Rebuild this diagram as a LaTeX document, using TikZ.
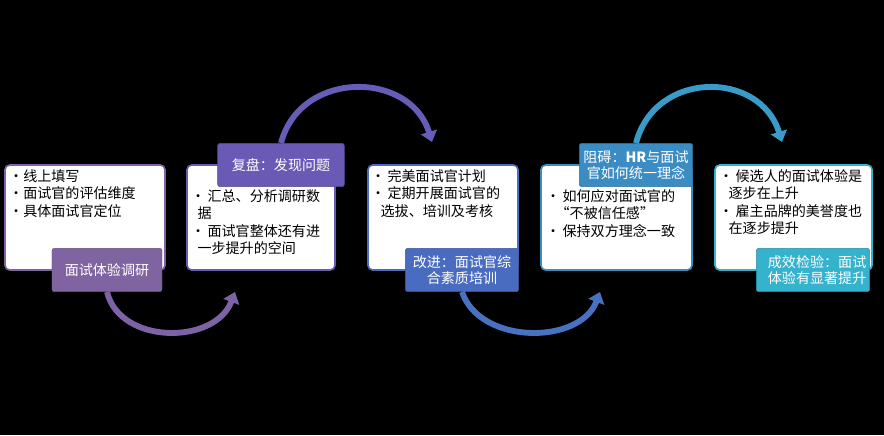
\documentclass[tikz,border=0pt]{standalone}
\usepackage{fontspec}
\setmainfont{Noto Sans CJK SC}
\usetikzlibrary{arrows.meta}
\definecolor{cA}{HTML}{8064A2}
\definecolor{cB}{HTML}{6A5AB5}
\definecolor{cC}{HTML}{4A6CC0}
\definecolor{cD}{HTML}{3C8CC4}
\definecolor{cE}{HTML}{35B2CC}
\tikzset{
  card/.style={draw=#1, line width=1.4pt, fill=white, rounded corners=4pt},
  tag/.style={fill=#1, draw=#1!80!black, text=white, rounded corners=2pt, align=center,
    minimum height=1.3cm, inner sep=2pt, font=\fontsize{12}{14}\selectfont},
  link/.style={draw=#1, line width=5pt, -{Triangle[length=9pt,width=14pt]}},
}
\begin{document}
\begin{tikzpicture}[x=0.03cm,y=-0.03cm]
  \fill[black] (0,0) rectangle (884,435);
  \useasboundingbox (0,0) rectangle (884,435);

  % cards
  \draw[card=cA] (5,165) rectangle (165,270);
  \draw[card=cB] (187,165) rectangle (335,270);
  \draw[card=cC] (368,165) rectangle (518,270);
  \draw[card=cD] (541,165) rectangle (692,270);
  \draw[card=cE] (715,165) rectangle (872,270);

  % card texts
  \begin{scope}[every node/.style={anchor=north west, align=left, inner sep=0pt,
      font=\fontsize{12}{15}\selectfont}]
    \node (tA) at (9,169) {•线上填写\\•面试官的评估维度\\•具体面试官定位};
    \node (tB) at (191,189) {•\,汇总、分析调研数\\\ \ 据\\•\,面试官整体还有进\\\ \ 一步提升的空间};
    \node (tC) at (371,169) {•\,完美面试官计划\\•\,定期开展面试官的\\\ \ \ 选拔、培训及考核};
    \node (tD) at (546,189) {•\,如何应对面试官的\\\ \ \ “不被信任感”\\•\,保持双方理念一致};
    \node (tE) at (719,169) {•\,候选人的面试体验是\\\ \ \ 逐步在上升\\•\,雇主品牌的美誉度也\\\ \ \ 在逐步提升};
  \end{scope}

  % tags
  \node[tag=cA, minimum width=3.3cm] (gA) at (107,270) {面试体验调研};
  \node[tag=cB, minimum width=3.8cm] (gB) at (281,165) {复盘：发现问题};
  \node[tag=cC, minimum width=3.4cm, text width=3.2cm] (gC) at (462,270) {改进：面试官综\\合素质培训};
  \node[tag=cD, minimum width=3.4cm, text width=3.2cm] (gD) at (636,165) {阻碍：\textbf{HR}与面试\\官如何统一理念};
  \node[tag=cE, minimum width=3.4cm, text width=3.2cm, align=right] (gE) at (813,270) {成效检验：面试\\体验有显著提升};

  % arcs
  \coordinate (eA) at (235,292);
  \coordinate (eB) at (432,142);
  \coordinate (eC) at (600,292);
  \coordinate (eD) at (782,142);
  \draw[link=cA!85!cB] (gA.south) .. controls (120,345) and (215,345) .. (eA);
  \draw[link=cB!85!cC] (gB.north) .. controls (300,70) and (410,70) .. (eB);
  \draw[link=cC!85!cD] (gC.south) .. controls (480,345) and (580,345) .. (eC);
  \draw[link=cD!60!cE] (gD.north) .. controls (655,70) and (760,70) .. (eD);
\end{tikzpicture}
\end{document}
